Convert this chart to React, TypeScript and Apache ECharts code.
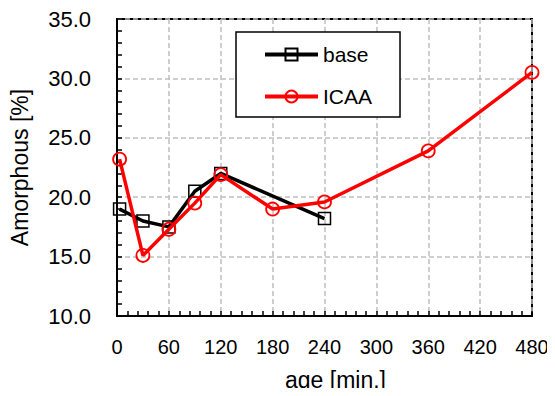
import React, { useEffect, useRef } from "react";
import * as echarts from "echarts";

const baseX = [3, 30, 60, 90, 120, 240];
const baseY = [19.0, 18.0, 17.5, 20.5, 22.0, 18.2];
const icaaX = [3, 30, 60, 90, 120, 180, 240, 360, 480];
const icaaY = [23.2, 15.1, 17.3, 19.5, 21.9, 19.0, 19.6, 23.9, 30.5];
const seriesNames = ["base", "ICAA"];
const xAxisName = "age [min.]";
const yAxisName = "Amorphous [%]";

const FONT = "'Liberation Sans', Arial, sans-serif";

export default function App() {
  const ref = useRef<HTMLDivElement>(null);
  useEffect(() => {
    if (!ref.current) return;
    const chart = echarts.init(ref.current, null, { renderer: "svg" });
    const tickCommon = {
      axisLine: { show: true, onZero: false, lineStyle: { color: "#000", width: 2 } },
      axisTick: { show: true, inside: true, length: 5, lineStyle: { color: "#000", width: 1.5 } },
      minorTick: { show: true, splitNumber: 5, length: 5, lineStyle: { color: "#000", width: 1.5 } },
      splitLine: { show: true, lineStyle: { color: "#bfbfbf", width: 1.5, type: [5, 3] } },
    };
    chart.setOption({
      animation: false,
      backgroundColor: "#fff",
      textStyle: { fontFamily: FONT },
      grid: {
        left: 116,
        right: 23,
        top: 19,
        bottom: 75,
        show: true,
        borderColor: "#000",
        borderWidth: 2,
        backgroundColor: "transparent",
      },
      legend: {
        orient: "vertical",
        left: 236,
        top: 32,
        padding: [12, 28, 10, 27],
        itemGap: 21,
        itemWidth: 53,
        itemHeight: 15,
        lineStyle: { width: 4 },
        borderColor: "#000",
        borderWidth: 1.5,
        backgroundColor: "#fff",
        textStyle: { fontSize: 21, color: "#000", fontFamily: FONT },
        data: seriesNames,
      },
      xAxis: {
        type: "value",
        min: 0,
        max: 480,
        interval: 60,
        name: xAxisName,
        nameLocation: "middle",
        nameGap: 52,
        nameTextStyle: { fontSize: 23, color: "#000", fontFamily: FONT, padding: [0, 0, 0, 22] },
        axisLabel: { fontSize: 20, color: "#000", margin: 21, fontFamily: FONT },
        ...tickCommon,
      },
      yAxis: {
        type: "value",
        min: 10,
        max: 35,
        interval: 5,
        name: yAxisName,
        nameLocation: "middle",
        nameGap: 86,
        nameTextStyle: { fontSize: 23, color: "#000", fontFamily: FONT },
        axisLabel: {
          fontSize: 22,
          color: "#000",
          margin: 26,
          fontFamily: FONT,
          formatter: (v: number) => v.toFixed(1),
        },
        ...tickCommon,
      },
      series: [
        {
          name: seriesNames[0],
          type: "line",
          data: baseX.map((x, i) => [x, baseY[i]]),
          symbol: "rect",
          symbolSize: 12,
          lineStyle: { color: "#000", width: 3.5 },
          itemStyle: { color: "rgba(0,0,0,0)", borderColor: "#000", borderWidth: 1.5 },
          z: 2,
        },
        {
          name: seriesNames[1],
          type: "line",
          data: icaaX.map((x, i) => [x, icaaY[i]]),
          symbol: "circle",
          symbolSize: 13,
          lineStyle: { color: "#ff0000", width: 3.5 },
          itemStyle: { color: "rgba(0,0,0,0)", borderColor: "#ff0000", borderWidth: 1.8 },
          z: 3,
        },
      ],
    });
    return () => chart.dispose();
  }, []);
  return <div ref={ref} style={{ width: 555, height: 396, margin: -8 }} />;
}
